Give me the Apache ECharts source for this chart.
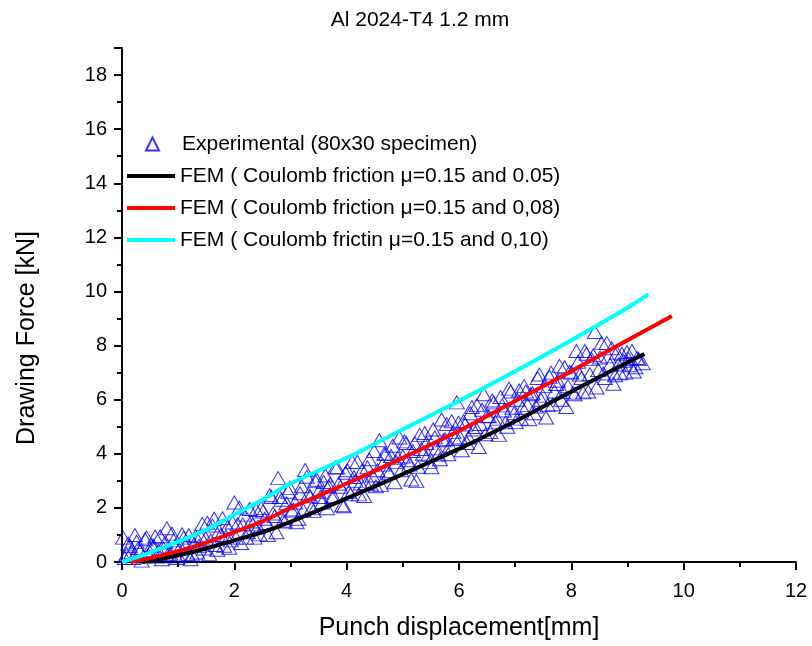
<!DOCTYPE html>
<html>
<head>
<meta charset="utf-8">
<title>Al 2024-T4 1.2 mm</title>
<script src="https://cdn.jsdelivr.net/npm/echarts@6/dist/echarts.min.js"></script>
<style>
  html, body { margin: 0; padding: 0; background: #fff; }
  #chart { width: 812px; height: 646px; }
</style>
</head>
<body>
<div id="chart"></div>
<script>
var experimental = [
  [0.02, 0.9], [0.08, 0.3], [0.14, 0.6], [0.2, 0.15], [0.26, 0.75], [0.32, 0.4], [0.38, 0.2], [0.44, 0.9],
  [0.5, 0.35], [0.56, 0.6], [0.62, 0.2], [0.68, 0.95], [0.74, 0.5], [0.8, 1.25], [0.86, 0.3], [0.92, 0.8],
  [0.98, 0.15], [1.04, 0.55], [1.1, 0.9], [1.16, 0.3], [1.22, 0.1], [1.28, 0.65], [1.34, 0.35], [1.4, 0.95],
  [1.46, 0.5], [1.52, 1.45], [1.58, 0.8], [1.64, 1.6], [1.7, 0.45], [1.76, 1.0], [1.82, 0.6], [1.88, 1.3],
  [1.94, 0.8], [2.0, 2.2], [2.06, 1.4], [2.12, 0.7], [2.18, 1.75], [2.24, 1.1], [2.3, 1.5], [2.36, 0.9],
  [2.42, 1.3], [2.48, 2.0], [2.54, 1.6], [2.6, 1.0], [2.66, 2.4], [2.72, 1.7], [2.78, 3.1], [2.84, 2.3],
  [2.9, 1.5], [2.96, 2.6], [3.02, 1.9], [3.08, 2.2], [3.14, 1.6], [3.2, 2.8], [3.26, 3.4], [3.32, 2.5],
  [3.38, 2.0], [3.44, 3.0], [3.5, 2.6], [3.56, 2.2], [3.62, 3.2], [3.68, 2.8], [3.74, 2.4], [3.8, 3.5],
  [3.86, 2.9], [3.92, 2.1], [3.98, 3.3], [4.04, 2.6], [4.1, 3.7], [4.16, 3.0], [4.22, 2.5], [4.28, 3.4],
  [4.34, 2.9], [4.4, 3.8], [4.46, 3.2], [4.52, 2.8], [4.58, 4.5], [4.64, 3.6], [4.7, 4.0], [4.76, 3.3],
  [4.82, 4.3], [4.88, 3.7], [4.94, 4.6], [5.0, 3.9], [5.06, 4.4], [5.12, 3.6], [5.18, 4.1], [5.24, 3.0],
  [5.3, 4.7], [5.36, 4.0], [5.42, 4.4], [5.48, 3.7], [5.54, 4.9], [5.6, 4.2], [5.66, 3.8], [5.72, 4.5],
  [5.78, 5.1], [5.84, 4.3], [5.9, 4.8], [5.96, 5.9], [6.02, 4.6], [6.08, 5.2], [6.14, 4.4], [6.2, 5.5],
  [6.26, 4.9], [6.32, 5.8], [6.38, 5.1], [6.44, 6.2], [6.5, 5.4], [6.56, 4.8], [6.62, 5.9], [6.68, 5.3],
  [6.74, 6.1], [6.8, 5.6], [6.86, 5.0], [6.92, 6.3], [6.98, 5.5], [7.04, 6.0], [7.1, 5.3], [7.16, 6.5],
  [7.22, 5.8], [7.28, 6.2], [7.34, 5.5], [7.4, 6.8], [7.46, 6.0], [7.52, 6.5], [7.58, 5.8], [7.64, 7.0],
  [7.7, 6.3], [7.76, 6.7], [7.82, 6.0], [7.88, 7.2], [7.94, 6.5], [8.0, 7.0], [8.06, 6.2], [8.12, 7.4],
  [8.18, 6.8], [8.24, 7.8], [8.3, 6.3], [8.36, 7.5], [8.42, 8.5], [8.48, 7.1], [8.54, 8.1], [8.6, 6.8],
  [8.66, 7.6], [8.72, 7.9], [8.78, 6.9], [8.84, 7.3], [8.9, 7.7], [8.96, 7.0], [9.02, 7.5], [9.08, 7.8],
  [9.14, 7.2], [9.2, 7.5],
  [0.05, 0.15], [0.11, 0.68], [0.17, 0.37], [0.23, 1.0], [0.29, 0.52], [0.35, 0.05], [0.41, 0.84], [0.47, 0.26],
  [0.53, 0.63], [0.59, 0.94], [0.65, 0.42], [0.71, 0.1], [0.77, 0.73], [0.83, 0.31], [0.89, 1.05], [0.95, 0.58],
  [1.01, 0.21], [1.07, 1.02], [1.13, 0.59], [1.19, 0.99], [1.25, 0.28], [1.31, 0.95], [1.37, 0.6], [1.43, 1.41],
  [1.49, 0.87], [1.55, 0.3], [1.61, 1.35], [1.67, 0.63], [1.73, 1.15], [1.79, 1.62], [1.85, 0.94], [1.91, 0.53],
  [1.97, 1.46], [2.03, 0.9], [2.09, 2.01], [2.15, 1.39], [2.21, 0.9], [2.27, 1.96], [2.33, 1.39], [2.39, 1.92],
  [2.45, 1.02], [2.51, 1.87], [2.57, 1.44], [2.63, 2.47], [2.69, 1.79], [2.75, 1.1], [2.81, 2.4], [2.87, 1.53],
  [2.93, 2.17], [2.99, 2.74], [3.05, 1.94], [3.11, 1.47], [3.17, 2.54], [3.23, 1.91], [3.29, 3.15], [3.35, 2.43],
  [3.41, 1.89], [3.47, 3.04], [3.53, 2.4], [3.59, 2.96], [3.65, 1.99], [3.71, 2.89], [3.77, 2.43], [3.83, 3.49],
  [3.89, 2.78], [3.95, 2.06], [4.01, 3.39], [4.07, 2.5], [4.13, 3.14], [4.19, 3.7], [4.25, 2.9], [4.31, 2.44],
  [4.37, 3.5], [4.43, 2.87], [4.49, 4.1], [4.55, 3.39], [4.61, 2.85], [4.67, 4.0], [4.73, 3.36], [4.79, 3.92],
  [4.85, 2.95], [4.91, 3.85], [4.97, 3.39], [5.03, 4.46], [5.09, 3.76], [5.15, 3.05], [5.21, 4.4], [5.27, 3.52],
  [5.33, 4.18], [5.39, 4.77], [5.45, 3.96], [5.51, 3.5], [5.57, 4.61], [5.63, 3.97], [5.69, 5.27], [5.75, 4.54],
  [5.81, 3.98], [5.87, 5.2], [5.93, 4.55], [5.99, 5.15], [6.05, 4.13], [6.11, 5.08], [6.17, 4.6], [6.23, 5.73],
  [6.29, 4.99], [6.35, 4.25], [6.41, 5.63], [6.47, 4.72], [6.53, 5.39], [6.59, 5.97], [6.65, 5.16], [6.71, 4.7],
  [6.77, 5.79], [6.83, 5.16], [6.89, 6.41], [6.95, 5.7], [7.01, 5.17], [7.07, 6.34], [7.13, 5.7], [7.19, 6.3],
  [7.25, 5.28], [7.31, 6.24], [7.37, 5.75], [7.43, 6.93], [7.49, 6.15], [7.55, 5.34], [7.61, 6.85], [7.67, 5.83],
  [7.73, 6.58], [7.79, 7.25], [7.85, 6.29], [7.91, 5.73], [7.97, 7.03], [8.03, 6.26], [8.09, 7.8], [8.15, 6.93],
  [8.21, 6.27], [8.27, 7.7], [8.33, 6.94], [8.39, 7.64], [8.45, 6.45], [8.51, 7.56], [8.57, 6.97], [8.63, 8.1],
  [8.69, 7.29], [8.75, 6.59], [8.81, 7.74], [8.87, 6.98], [8.93, 7.44], [8.99, 7.76], [9.05, 7.27], [9.11, 7.04],
  [9.17, 7.54], [9.27, 7.35]
];

// FEM curves
var fem005 = [
  [0.35, 0], [0.7, 0.12], [1, 0.25], [1.5, 0.5], [2, 0.8], [2.5, 1.1], [3, 1.48], [4, 2.35],
  [5, 3.25], [6, 4.18], [7, 5.2], [8, 6.3], [9, 7.38], [9.3, 7.69]
];
var fem008 = [
  [0.15, 0], [0.5, 0.15], [1, 0.4], [1.5, 0.72], [2, 1.1], [2.5, 1.5], [3, 2.0], [4, 2.9],
  [5, 3.85], [6, 4.85], [7, 5.95], [8, 7.05], [9, 8.2], [9.79, 9.09]
];
var fem010 = [
  [0, 0], [0.5, 0.35], [1, 0.75], [1.5, 1.2], [2, 1.75], [2.5, 2.3], [3, 2.9], [4, 3.85],
  [5, 4.9], [6, 5.95], [7, 7.05], [8, 8.2], [9, 9.4], [9.37, 9.89]
];

var seriesNames = [
  'Experimental (80x30 specimen)',
  'FEM ( Coulomb friction μ=0.15 and 0.05)',
  'FEM ( Coulomb friction μ=0.15 and 0,08)',
  'FEM ( Coulomb frictin μ=0.15 and 0,10)'
];

var font = 'Arial, "Liberation Sans", sans-serif';
var chart = echarts.init(document.getElementById('chart'));

function femLine(name, data, color) {
  return {
    name: name,
    type: 'line',
    data: data,
    smooth: 0.3,
    symbol: 'none',
    z: 3,
    itemStyle: { color: color },
    lineStyle: { color: color, width: 4 }
  };
}

var legendText = { fontFamily: font, fontSize: 21, color: '#000', lineHeight: 22 };

var axisCommon = {
  type: 'value',
  nameLocation: 'middle',
  axisLine: { lineStyle: { color: '#000', width: 2 } },
  axisTick: { inside: false, length: 8, lineStyle: { color: '#000', width: 2 } },
  minorTick: { show: true, splitNumber: 2, length: 5, lineStyle: { color: '#000', width: 2 } },
  splitLine: { show: false }
};

var option = {
  animation: false,
  title: {
    text: 'Al 2024-T4 1.2 mm',
    left: 415,
    top: 5,
    textAlign: 'center',
    textStyle: { fontFamily: font, fontSize: 21, fontWeight: 'normal', color: '#000' }
  },
  grid: {
    left: 122,
    right: 16,
    top: 48,
    bottom: 84
  },
  legend: [
    {
      orient: 'vertical',
      left: 145,
      top: 133,
      padding: 0,
      itemWidth: 13,
      itemHeight: 13,
      data: [{ name: seriesNames[0], icon: 'triangle' }],
      textStyle: Object.assign({ padding: [0, 0, 0, 18] }, legendText)
    },
    {
      orient: 'vertical',
      left: 127,
      top: 165,
      padding: 0,
      itemWidth: 48,
      itemHeight: 4,
      itemGap: 10,
      data: [
        { name: seriesNames[1], icon: 'rect' },
        { name: seriesNames[2], icon: 'rect' },
        { name: seriesNames[3], icon: 'rect' }
      ],
      textStyle: legendText
    }
  ],
  xAxis: Object.assign({}, axisCommon, {
    min: 0,
    max: 12,
    interval: 2,
    name: 'Punch displacement[mm]',
    nameGap: 54,
    nameTextStyle: { fontFamily: font, fontSize: 25, color: '#000' },
    axisLabel: { fontFamily: font, fontSize: 20, color: '#000', margin: 19 }
  }),
  yAxis: Object.assign({}, axisCommon, {
    min: 0,
    max: 19,
    interval: 2,
    name: 'Drawing Force [kN]',
    nameGap: 82,
    nameTextStyle: { fontFamily: font, fontSize: 25, color: '#000', padding: [0, 66, 0, 0] },
    axisLabel: { fontFamily: font, fontSize: 20, color: '#000', margin: 15, showMaxLabel: false }
  }),
  series: [
    {
      name: seriesNames[0],
      type: 'scatter',
      data: experimental,
      symbol: 'triangle',
      symbolSize: [15, 13],
      z: 2,
      itemStyle: { color: 'rgba(0,0,0,0)', borderColor: '#0000ff', borderWidth: 1 }
    },
    femLine(seriesNames[1], fem005, '#000000'),
    femLine(seriesNames[2], fem008, '#ff0000'),
    femLine(seriesNames[3], fem010, '#00ffff')
  ]
};

chart.setOption(option);
</script>
</body>
</html>
